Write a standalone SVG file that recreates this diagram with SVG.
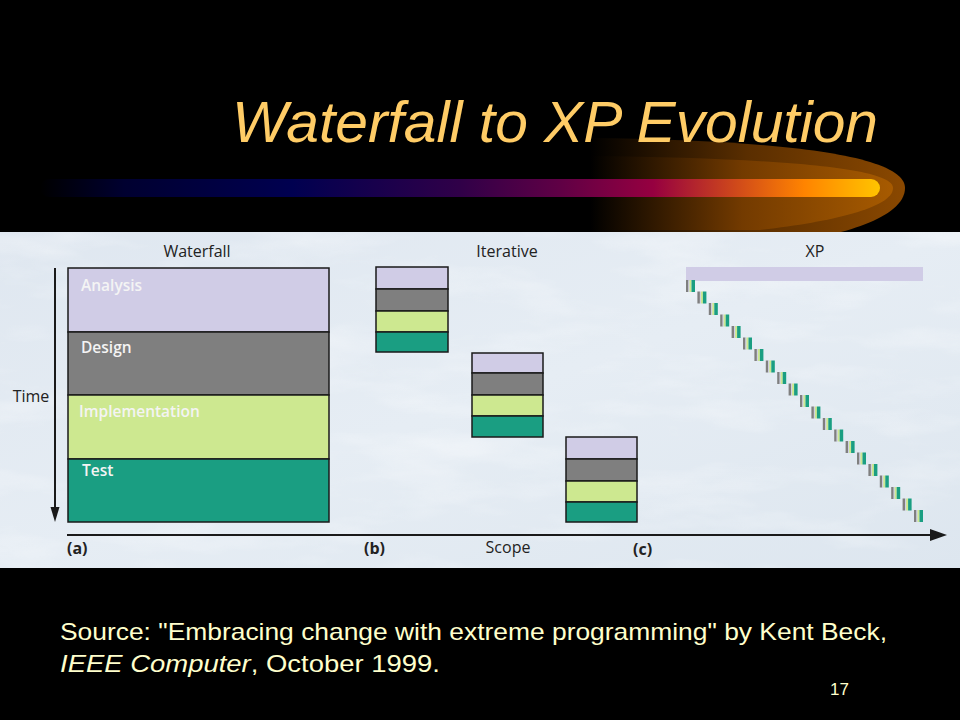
<svg xmlns="http://www.w3.org/2000/svg" xmlns:xlink="http://www.w3.org/1999/xlink" width="960" height="720" viewBox="0 0 960 720">
  <defs>
    <style>
      .title { font-family: "Liberation Sans", Arial, sans-serif; font-style: italic; font-size: 57px; fill: #ffcc66; }
      .src { font-family: "Liberation Sans", Arial, sans-serif; font-size: 24px; fill: #ffffcc; }
      .lbl { font-family: "Open Sans", "DejaVu Sans", sans-serif; font-size: 16px; fill: #222; }
      .axl { font-family: "Open Sans", "DejaVu Sans", sans-serif; font-size: 16px; font-weight: 700; fill: #222; }
      .phase { font-family: "Open Sans", "DejaVu Sans", sans-serif; font-size: 15.5px; font-weight: 600; fill: #f4f4f4; }
      .box { stroke: #1a1a1a; stroke-width: 1.5; }
      .an { fill: #d0cce6; }
      .de { fill: #7f7f7f; }
      .im { fill: #cde890; }
      .te { fill: #1a9e82; }
      .axis { stroke: #1a1a1a; stroke-width: 2; fill: none; }
    </style>
    <linearGradient id="barGrad" x1="40" y1="0" x2="880" y2="0" gradientUnits="userSpaceOnUse">
      <stop offset="0" stop-color="#000000"/>
      <stop offset="0.1" stop-color="#000030"/>
      <stop offset="0.3" stop-color="#000050"/>
      <stop offset="0.5" stop-color="#300048"/>
      <stop offset="0.62" stop-color="#600045"/>
      <stop offset="0.73" stop-color="#960040"/>
      <stop offset="0.83" stop-color="#d04a1a"/>
      <stop offset="0.91" stop-color="#ff8400"/>
      <stop offset="1" stop-color="#ffc400"/>
    </linearGradient>
    <linearGradient id="glow1" x1="590" y1="0" x2="905" y2="0" gradientUnits="userSpaceOnUse">
      <stop offset="0" stop-color="#000000"/>
      <stop offset="0.5" stop-color="#5a2e00"/>
      <stop offset="1" stop-color="#8a4800"/>
    </linearGradient>
    <linearGradient id="glow2" x1="590" y1="0" x2="895" y2="0" gradientUnits="userSpaceOnUse">
      <stop offset="0" stop-color="#000000"/>
      <stop offset="0.5" stop-color="#7a3e00"/>
      <stop offset="1" stop-color="#b06000"/>
    </linearGradient>
    <linearGradient id="panelGrad" x1="0" y1="0" x2="1" y2="1">
      <stop offset="0" stop-color="#dfe7f0"/>
      <stop offset="0.5" stop-color="#e6edf4"/>
      <stop offset="1" stop-color="#dde6ef"/>
    </linearGradient>
    <filter id="marble" x="0" y="0" width="1" height="1">
      <feTurbulence type="fractalNoise" baseFrequency="0.008 0.03" numOctaves="4" seed="7"/>
      <feColorMatrix type="matrix" values="0 0 0 0 1  0 0 0 0 1  0 0 0 0 1  1.6 0 0 0 -0.75"/>
    </filter>
    <g id="mini">
      <rect x="0" y="0" width="2.5" height="12" fill="#7f7f7f"/>
      <rect x="2.5" y="0" width="1" height="12" fill="#d0cce6"/>
      <rect x="3.5" y="0" width="2" height="12" fill="#cde890"/>
      <rect x="5.5" y="0" width="3.5" height="12" fill="#1a9e82"/>
    </g>
  </defs>

  <!-- background -->
  <rect x="0" y="0" width="960" height="720" fill="#000000"/>

  <!-- glow and swoosh bar -->
  <path d="M590,138 C760,140 905,152 905,188 C905,218 840,236 780,244 L590,244 Z" fill="url(#glow1)"/>
  <path d="M590,156 C760,158 893,166 893,188 C893,208 830,222 760,230 L590,230 Z" fill="url(#glow2)" opacity="0.8"/>
  <rect x="40" y="179" width="840" height="18" rx="9" fill="url(#barGrad)"/>

  <!-- title -->
  <text class="title" x="232" y="142" textLength="646" lengthAdjust="spacingAndGlyphs">Waterfall to XP Evolution</text>

  <!-- panel -->
  <rect x="0" y="232" width="960" height="336" fill="url(#panelGrad)"/>
  <rect x="0" y="232" width="960" height="336" filter="url(#marble)" opacity="0.5"/>

  <!-- headings -->
  <text class="lbl" x="197" y="257" text-anchor="middle">Waterfall</text>
  <text class="lbl" x="507" y="257" text-anchor="middle">Iterative</text>
  <text class="lbl" x="815" y="257" text-anchor="middle">XP</text>
  <text class="lbl" x="31" y="402" text-anchor="middle">Time</text>
  <text class="lbl" x="508" y="553" text-anchor="middle">Scope</text>
  <text class="axl" x="67" y="554">(a)</text>
  <text class="axl" x="364" y="554">(b)</text>
  <text class="axl" x="633" y="555">(c)</text>

  <!-- connectors / axes -->
  <g id="connectors">
    <line class="axis" x1="55" y1="268" x2="55" y2="510"/>
    <polygon points="50.5,507 59.5,507 55,522" fill="#1a1a1a"/>
    <line class="axis" x1="67" y1="535" x2="932" y2="535"/>
    <polygon points="930,529 947,535 930,541" fill="#1a1a1a"/>
  </g>

  <!-- waterfall -->
  <g id="waterfall">
    <rect class="box an" x="68" y="268" width="261" height="64"/>
    <rect class="box de" x="68" y="332" width="261" height="63"/>
    <rect class="box im" x="68" y="395" width="261" height="64"/>
    <rect class="box te" x="68" y="459" width="261" height="63"/>
    <text class="phase" x="81" y="291">Analysis</text>
    <text class="phase" x="81" y="353">Design</text>
    <text class="phase" x="79" y="417">Implementation</text>
    <text class="phase" x="82" y="476">Test</text>
  </g>

  <!-- iterative -->
  <g id="iter1">
    <rect class="box an" x="376" y="267" width="72" height="22"/>
    <rect class="box de" x="376" y="289" width="72" height="22"/>
    <rect class="box im" x="376" y="311" width="72" height="21"/>
    <rect class="box te" x="376" y="332" width="72" height="20"/>
  </g>
  <g id="iter2">
    <rect class="box an" x="472" y="353" width="71" height="20"/>
    <rect class="box de" x="472" y="373" width="71" height="22"/>
    <rect class="box im" x="472" y="395" width="71" height="21"/>
    <rect class="box te" x="472" y="416" width="71" height="21"/>
  </g>
  <g id="iter3">
    <rect class="box an" x="566" y="437" width="71" height="22"/>
    <rect class="box de" x="566" y="459" width="71" height="22"/>
    <rect class="box im" x="566" y="481" width="71" height="21"/>
    <rect class="box te" x="566" y="502" width="71" height="20"/>
  </g>

  <!-- XP -->
  <g id="xp">
    <rect x="686" y="267" width="237" height="14" fill="#d0cce6"/>
    <use xlink:href="#mini" x="686" y="280"/>
    <use xlink:href="#mini" x="697.4" y="291.5"/>
    <use xlink:href="#mini" x="708.8" y="303"/>
    <use xlink:href="#mini" x="720.2" y="314.5"/>
    <use xlink:href="#mini" x="731.6" y="326"/>
    <use xlink:href="#mini" x="743" y="337.5"/>
    <use xlink:href="#mini" x="754.4" y="349"/>
    <use xlink:href="#mini" x="765.8" y="360.5"/>
    <use xlink:href="#mini" x="777.2" y="372"/>
    <use xlink:href="#mini" x="788.6" y="383.5"/>
    <use xlink:href="#mini" x="800" y="395"/>
    <use xlink:href="#mini" x="811.4" y="406.5"/>
    <use xlink:href="#mini" x="822.8" y="418"/>
    <use xlink:href="#mini" x="834.2" y="429.5"/>
    <use xlink:href="#mini" x="845.6" y="441"/>
    <use xlink:href="#mini" x="857" y="452.5"/>
    <use xlink:href="#mini" x="868.4" y="464"/>
    <use xlink:href="#mini" x="879.8" y="475.5"/>
    <use xlink:href="#mini" x="891.2" y="487"/>
    <use xlink:href="#mini" x="902.6" y="498.5"/>
    <use xlink:href="#mini" x="914" y="510"/>
  </g>

  <!-- source -->
  <text class="src" x="60" y="640" textLength="827" lengthAdjust="spacingAndGlyphs">Source: "Embracing change with extreme programming" by Kent Beck,</text>
  <text class="src" x="60" y="672" textLength="380" lengthAdjust="spacingAndGlyphs"><tspan font-style="italic">IEEE Computer</tspan>, October 1999.</text>
  <text class="src" x="830" y="695" style="font-size:17px">17</text>
</svg>
